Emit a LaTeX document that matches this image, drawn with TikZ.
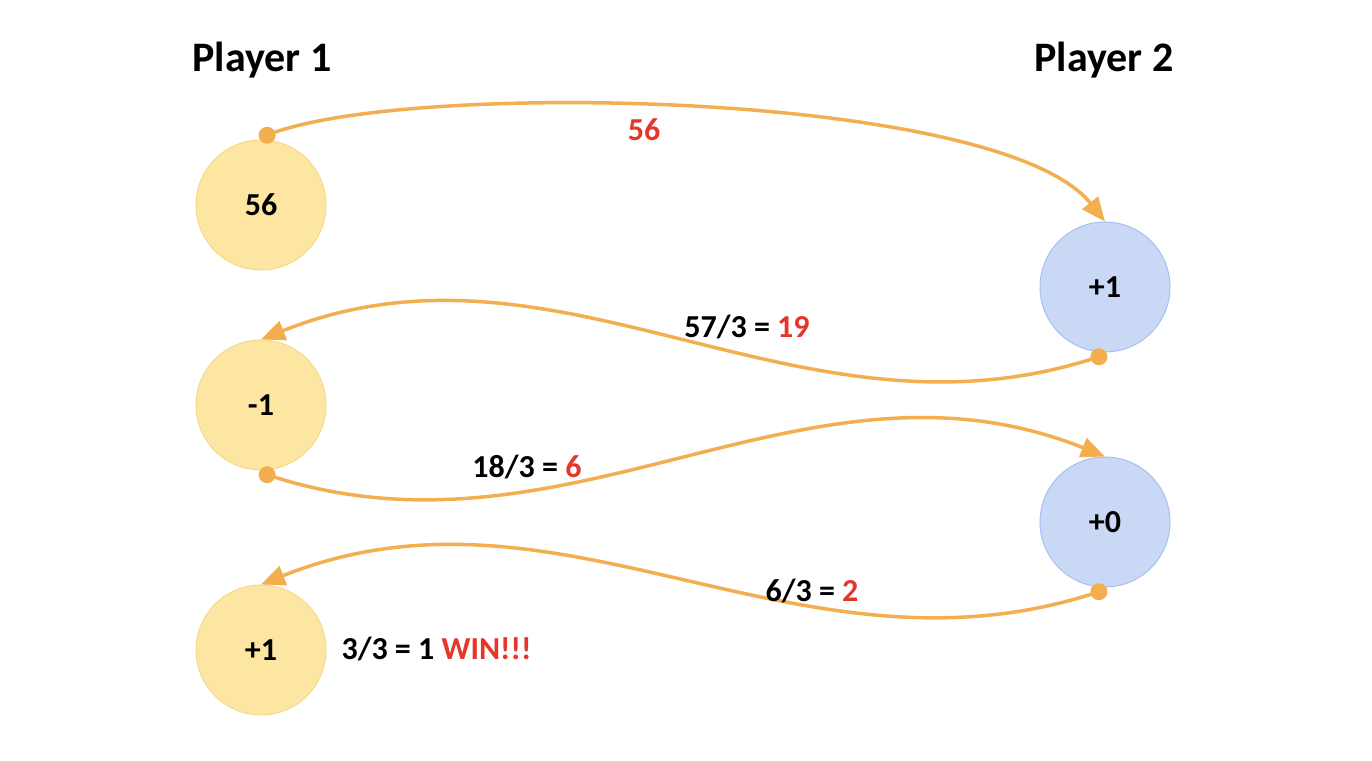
\documentclass[tikz,border=0pt]{standalone}
\usepackage{fontspec}
\setmainfont{Carlito}
\usetikzlibrary{arrows.meta,calc}
\definecolor{amarillo}{HTML}{FCE6A1}
\definecolor{amarilloborde}{HTML}{F8D98A}
\definecolor{azul}{HTML}{C9D8F5}
\definecolor{azulborde}{HTML}{A8C0EE}
\definecolor{naranja}{HTML}{F3AE50}
\definecolor{rojo}{HTML}{E6362C}
\tikzset{
  jugador/.style={circle, minimum size=130pt, inner sep=0pt, line width=1pt,
    font=\fontsize{32}{38}\selectfont\bfseries},
  uno/.style={jugador, fill=amarillo, draw=amarilloborde},
  dos/.style={jugador, fill=azul, draw=azulborde},
  titulo/.style={anchor=base, font=\fontsize{42}{50}\selectfont\bfseries},
  etiqueta/.style={anchor=base, font=\fontsize{32}{38}\selectfont\bfseries},
  punto/.style={circle, fill=naranja, minimum size=17pt, inner sep=0pt},
  flecha/.style={draw=naranja, line width=3.5pt, -{Triangle[length=24pt,width=20pt]}}
}
\begin{document}
\begin{tikzpicture}[x=1pt, y=1pt]
    \useasboundingbox (0,0) rectangle (1372,760);
    %------------Titulos----------
    \node[titulo] (t1) at (262,688) {Player 1};
    \node[titulo] (t2) at (1104,688) {Player 2};
    %------------Jugador 1----------
    \node[uno] (p1a) at (261,555) {56};
    \node[uno] (p1b) at (261,355) {-1};
    \node[uno] (p1c) at (261,110) {+1};
    %------------Jugador 2----------
    \node[dos] (p2a) at (1105,473) {+1};
    \node[dos] (p2b) at (1105,238) {+0};
    %------------Puntos--------------
    \node[punto] (d1) at ($(p1a.center)+(85:70)$) {};
    \node[punto] (d2) at ($(p2a.center)+(265:70)$) {};
    \node[punto] (d3) at ($(p1b.center)+(275:70)$) {};
    \node[punto] (d4) at ($(p2b.center)+(265:70)$) {};
    %------------Flechas--------------
    \draw[flecha] (d1.center) .. controls (400,680) and (1000,670) .. (p2a.north);
    \draw[flecha] (d2.center) .. controls ($(d2)+(-300,-100)$) and ($(p1b.north)+(300,120)$) .. (p1b.north);
    \draw[flecha] (d3.center) .. controls ($(d3)+(300,-100)$) and ($(p2b.north)+(-300,120)$) .. (p2b.north);
    \draw[flecha] (d4.center) .. controls ($(d4)+(-300,-100)$) and ($(p1c.north)+(300,120)$) .. (p1c.north);
    %------------Etiquetas--------------
    \node[etiqueta] (e1) at (644,619) {\textcolor{rojo}{56}};
    \node[etiqueta] (e2) at (747,422) {57/3 = \textcolor{rojo}{19}};
    \node[etiqueta] (e3) at (527,282) {18/3 = \textcolor{rojo}{6}};
    \node[etiqueta] (e4) at (812,158) {6/3 = \textcolor{rojo}{2}};
    \node[etiqueta, anchor=base west] (e5) at (338,101) {3/3 = 1 \textcolor{rojo}{WIN!!!}};
  \end{tikzpicture}
\end{document}
